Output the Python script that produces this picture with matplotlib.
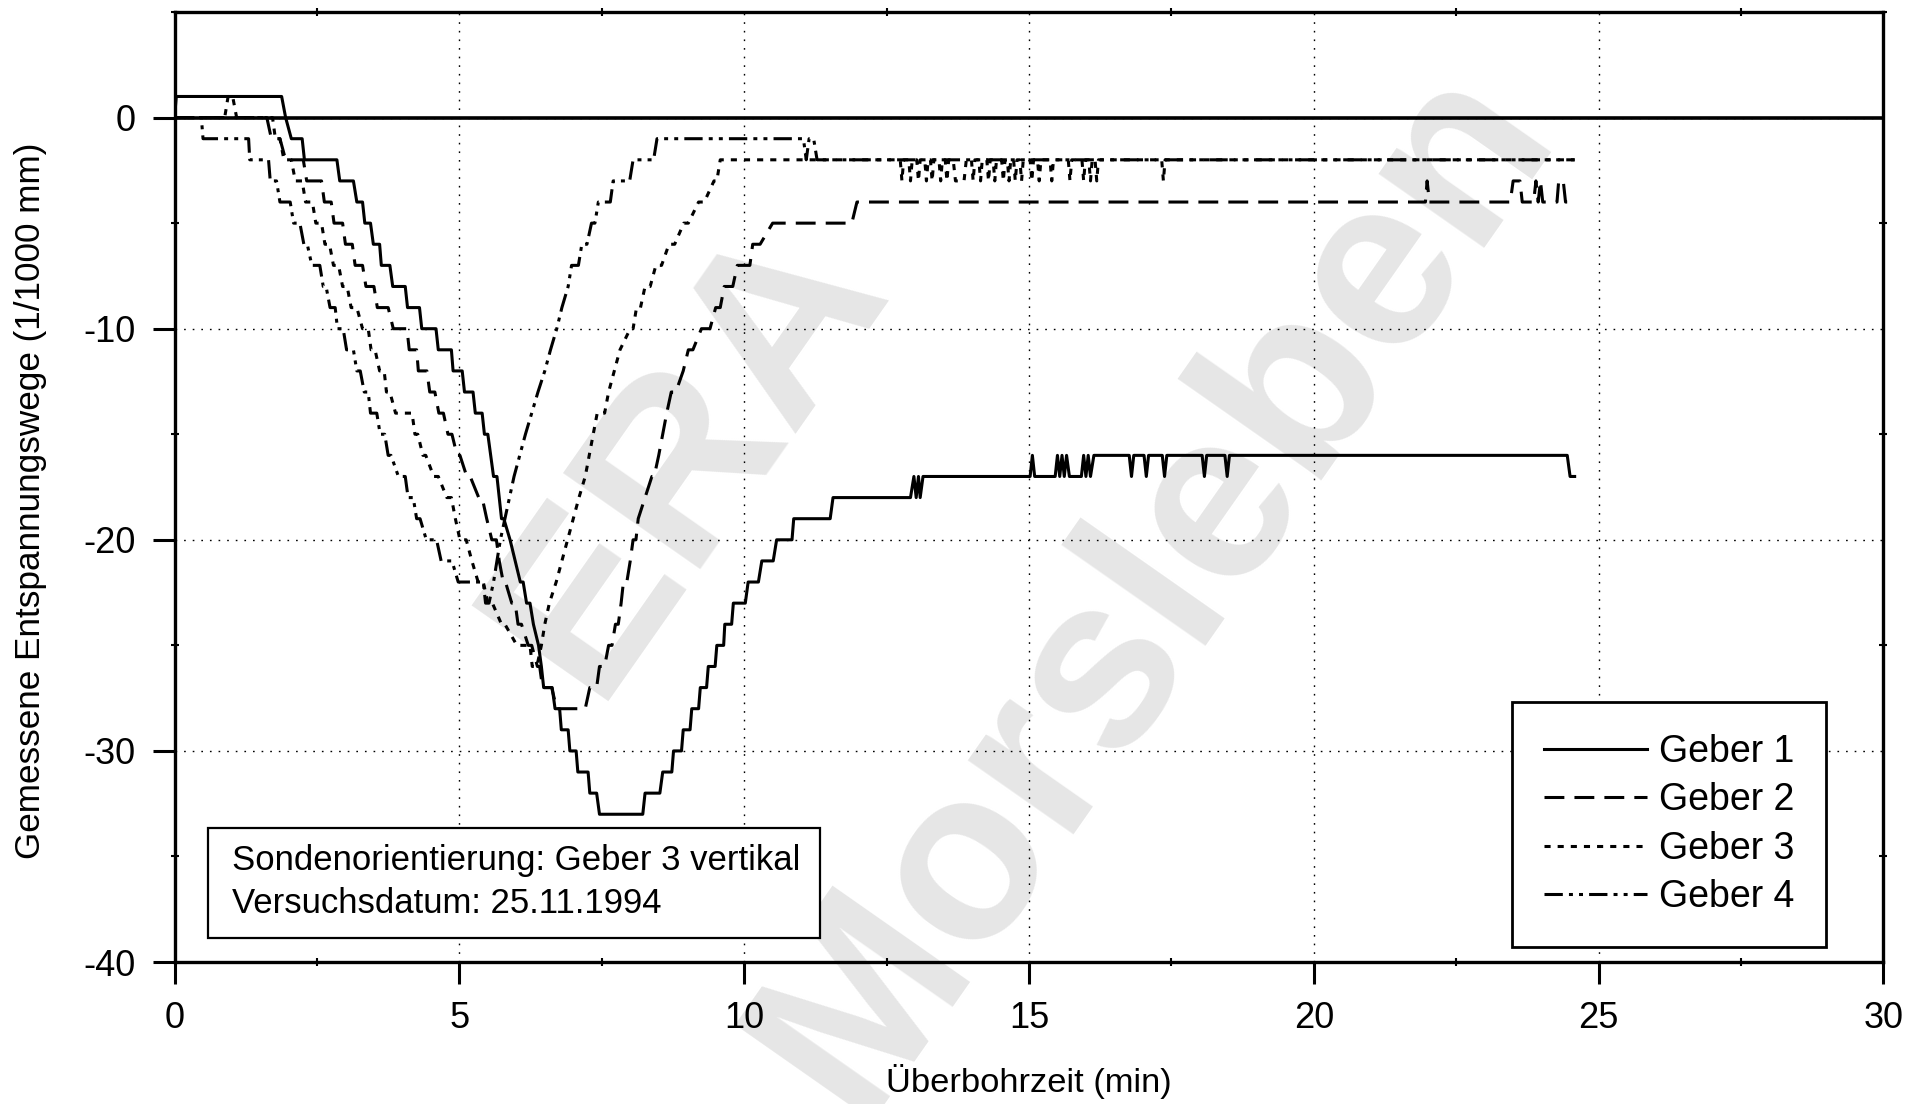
import matplotlib
matplotlib.use('Agg')
import matplotlib.pyplot as plt
from matplotlib.patches import Rectangle
from matplotlib.ticker import MultipleLocator

geber1 = [(0, 0), (0.03, 1), (1.88, 1), (1.95, 0), (2.05, -1), (2.24, -1), (2.28, -2), (2.85, -2),
          (2.90, -3), (3.14, -3), (3.20, -4), (3.30, -4), (3.34, -5), (3.44, -5), (3.49, -6), (3.60, -6),
          (3.63, -7), (3.78, -7), (3.83, -8), (4.05, -8), (4.09, -9), (4.30, -9), (4.34, -10), (4.59, -10),
          (4.63, -11), (4.86, -11), (4.89, -12), (5.05, -12), (5.09, -13), (5.24, -13), (5.28, -14),
          (5.40, -14), (5.44, -15), (5.50, -15), (5.60, -17), (5.66, -17), (5.74, -19), (5.78, -19),
          (5.89, -20), (5.98, -21), (6.07, -22), (6.12, -22), (6.18, -23), (6.24, -23), (6.30, -24),
          (6.39, -25), (6.44, -26), (6.48, -27), (6.63, -27), (6.68, -28), (6.76, -28), (6.79, -29),
          (6.91, -29), (6.94, -30), (7.05, -30), (7.08, -31), (7.26, -31), (7.29, -32), (7.41, -32),
          (7.46, -33), (8.22, -33), (8.26, -32), (8.52, -32), (8.57, -31), (8.73, -31), (8.76, -30),
          (8.90, -30), (8.93, -29), (9.05, -29), (9.08, -28), (9.20, -28), (9.23, -27), (9.34, -27),
          (9.37, -26), (9.49, -26), (9.52, -25), (9.64, -25), (9.66, -24), (9.78, -24), (9.81, -23),
          (10.02, -23), (10.07, -22), (10.25, -22), (10.31, -21), (10.51, -21), (10.57, -20), (10.84, -20),
          (10.87, -19), (11.51, -19), (11.56, -18), (12.92, -18), (12.98, -17), (13.02, -18), (13.06, -17),
          (13.09, -18), (13.14, -17), (15.02, -17), (15.06, -16), (15.10, -17), (15.46, -17), (15.50, -16),
          (15.54, -17), (15.58, -16), (15.62, -17), (15.66, -16), (15.71, -17), (15.92, -17), (15.96, -16),
          (16.00, -17), (16.04, -16), (16.08, -17), (16.14, -16), (16.76, -16), (16.80, -17), (16.84, -16),
          (17.02, -16), (17.06, -17), (17.10, -16), (17.34, -16), (17.38, -17), (17.42, -16), (18.04, -16),
          (18.08, -17), (18.12, -16), (18.44, -16), (18.48, -17), (18.52, -16), (24.45, -16), (24.50, -17),
          (24.58, -17)]

geber2 = [(0, 0), (1.62, 0), (1.70, -1), (1.85, -1), (1.95, -2), (2.26, -2), (2.32, -3), (2.58, -3),
          (2.63, -4), (2.75, -4), (2.80, -5), (2.95, -5), (3.00, -6), (3.12, -6), (3.17, -7), (3.30, -7),
          (3.36, -8), (3.50, -8), (3.56, -9), (3.75, -9), (3.84, -10), (4.08, -10), (4.12, -11), (4.25, -11),
          (4.28, -12), (4.43, -12), (4.48, -13), (4.57, -13), (4.64, -14), (4.72, -14), (4.80, -15),
          (4.87, -15), (4.96, -16), (5.01, -16), (5.13, -17), (5.19, -17), (5.34, -18), (5.40, -18),
          (5.48, -19), (5.57, -20), (5.65, -20), (5.70, -21), (5.77, -22), (5.81, -22), (5.92, -23),
          (5.98, -23), (6.03, -24), (6.09, -24), (6.21, -25), (6.27, -25), (6.37, -26), (6.41, -26),
          (6.46, -27), (6.62, -27), (6.71, -28), (7.21, -28), (7.29, -27), (7.41, -27), (7.46, -26),
          (7.55, -26), (7.62, -25), (7.68, -25), (7.74, -24), (7.79, -24), (7.84, -23), (7.88, -22),
          (7.94, -22), (8.00, -21), (8.05, -20), (8.10, -20), (8.14, -19), (8.26, -18), (8.38, -17),
          (8.42, -17), (8.50, -16), (8.57, -15), (8.64, -14), (8.72, -13), (8.80, -13), (8.93, -12),
          (9.02, -11), (9.10, -11), (9.25, -10), (9.40, -10), (9.50, -9), (9.58, -9), (9.65, -8),
          (9.80, -8), (9.88, -7), (10.10, -7), (10.15, -6), (10.28, -6), (10.50, -5), (11.89, -5),
          (11.98, -4), (21.96, -4), (21.99, -3), (22.03, -4), (23.45, -4), (23.50, -3), (23.62, -3),
          (23.66, -4), (23.86, -4), (23.90, -3), (23.94, -4), (23.98, -3), (24.02, -4), (24.27, -4),
          (24.30, -3), (24.38, -3), (24.42, -4), (24.62, -4)]

geber3 = [(0, 0), (0.88, 0), (0.94, 1), (1.02, 1), (1.09, 0), (1.72, 0), (1.77, -1), (1.85, -1),
          (1.92, -2), (2.05, -2), (2.12, -3), (2.24, -3), (2.30, -4), (2.42, -4), (2.48, -5), (2.58, -5),
          (2.64, -6), (2.72, -6), (2.79, -7), (2.88, -7), (2.95, -8), (3.03, -8), (3.10, -9), (3.20, -9),
          (3.30, -10), (3.40, -10), (3.45, -11), (3.52, -11), (3.60, -12), (3.68, -12), (3.72, -13),
          (3.78, -13), (3.88, -14), (4.17, -14), (4.22, -15), (4.27, -15), (4.36, -16), (4.41, -16),
          (4.55, -17), (4.63, -17), (4.78, -18), (4.86, -18), (4.93, -19), (5.01, -20), (5.12, -20),
          (5.22, -21), (5.33, -22), (5.42, -22), (5.50, -23), (5.58, -23), (5.74, -24), (5.80, -24),
          (6.01, -25), (6.24, -25), (6.28, -26), (6.36, -26), (6.44, -25), (6.50, -24), (6.58, -23),
          (6.70, -22), (6.80, -21), (6.90, -20), (7.00, -19), (7.10, -18), (7.21, -17), (7.28, -16),
          (7.35, -15), (7.42, -14), (7.55, -14), (7.62, -13), (7.72, -12), (7.82, -11), (8.00, -10),
          (8.05, -10), (8.11, -9), (8.18, -9), (8.26, -8), (8.35, -8), (8.45, -7), (8.55, -7), (8.68, -6),
          (8.78, -6), (8.94, -5), (9.02, -5), (9.20, -4), (9.30, -4), (9.47, -3), (9.52, -3), (9.58, -2),
          (12.74, -2), (12.77, -3), (12.80, -2), (12.89, -2), (12.92, -3), (12.95, -2), (13.03, -2),
          (13.06, -3), (13.09, -2), (13.17, -2), (13.20, -3), (13.23, -2), (13.27, -2), (13.30, -3),
          (13.33, -2), (13.42, -2), (13.45, -3), (13.48, -2), (13.53, -2), (13.56, -3), (13.59, -2),
          (13.67, -2), (13.71, -3), (13.86, -3), (13.90, -2), (13.99, -2), (14.02, -3), (14.05, -2),
          (14.12, -2), (14.15, -3), (14.18, -2), (14.26, -2), (14.29, -3), (14.32, -2), (14.37, -2),
          (14.40, -3), (14.43, -2), (14.52, -2), (14.55, -3), (14.58, -2), (14.62, -2), (14.65, -3),
          (14.68, -2), (14.73, -2), (14.76, -3), (14.79, -2), (14.84, -2), (14.87, -3), (14.90, -2),
          (15.02, -2), (15.05, -3), (15.08, -2), (15.15, -2), (15.18, -3), (15.21, -2), (15.37, -2),
          (15.40, -3), (15.43, -2), (15.69, -2), (15.72, -3), (15.75, -2), (15.93, -2), (15.96, -3),
          (15.99, -2), (16.05, -2), (16.08, -3), (16.11, -2), (16.16, -2), (16.19, -3), (16.22, -2),
          (17.33, -2), (17.36, -3), (17.39, -2), (24.58, -2)]

geber4 = [(0, 0), (0.47, 0), (0.50, -1), (1.30, -1), (1.32, -2), (1.65, -2), (1.68, -3), (1.79, -3),
          (1.85, -4), (2.03, -4), (2.09, -5), (2.20, -5), (2.27, -6), (2.33, -6), (2.41, -7), (2.55, -7),
          (2.61, -8), (2.66, -8), (2.73, -9), (2.82, -9), (2.86, -10), (2.96, -10), (3.02, -11),
          (3.14, -11), (3.20, -12), (3.26, -12), (3.33, -13), (3.40, -13), (3.44, -14), (3.55, -14),
          (3.61, -15), (3.69, -15), (3.75, -16), (3.80, -16), (3.93, -17), (4.05, -17), (4.10, -18),
          (4.19, -18), (4.25, -19), (4.31, -19), (4.42, -20), (4.60, -20), (4.68, -21), (4.87, -21),
          (4.98, -22), (5.42, -22), (5.46, -23), (5.52, -23), (5.60, -22), (5.66, -21), (5.72, -20),
          (5.80, -19), (5.88, -18), (5.96, -17), (6.06, -16), (6.16, -15), (6.27, -14), (6.38, -13),
          (6.50, -12), (6.60, -11), (6.71, -10), (6.80, -9), (6.91, -8), (6.97, -7), (7.09, -7),
          (7.15, -6), (7.24, -6), (7.32, -5), (7.38, -5), (7.44, -4), (7.65, -4), (7.70, -3), (7.99, -3),
          (8.05, -2), (8.41, -2), (8.47, -1), (11.04, -1), (11.09, -2), (11.14, -1), (11.22, -1),
          (11.28, -2), (24.58, -2)]

labels = ['Geber 1', 'Geber 2', 'Geber 3', 'Geber 4']
x_ticks = [0, 5, 10, 15, 20, 25, 30]
y_ticks = [-40, -30, -20, -10, 0]

plt.rcParams['font.family'] = ['Liberation Sans', 'DejaVu Sans']
plt.rcParams['axes.unicode_minus'] = False

fig = plt.figure(figsize=(19.14, 11.04), dpi=100)
ax = fig.add_axes([0.0912, 0.1286, 0.8928, 0.8605])
ax.set_facecolor('none')

# Wasserzeichen hinter dem Diagramm
fig.text(0.360, 0.588, 'ERA', rotation=55, ha='center', va='center', fontsize=175,
         fontweight='bold', color='#e6e6e6', zorder=-1)
fig.text(0.603, 0.468, 'Morsleben', rotation=55, ha='center', va='center', fontsize=175,
         fontweight='bold', color='#e6e6e6', zorder=-1)

styles = ['-', (0, (6.5, 3.3)), (0, (2.0, 2.3)), (0, (6, 2, 1.3, 2, 1.3, 2))]
for data, lab, ls in zip([geber1, geber2, geber3, geber4], labels, styles):
    t = [p[0] for p in data]
    v = [p[1] for p in data]
    ax.plot(t, v, color='black', lw=2.2, linestyle=ls, label=lab, zorder=3)

ax.axhline(0, color='black', lw=2.6, zorder=4)

ax.set_xlim(0, 30)
ax.set_ylim(-40, 5)
ax.set_xticks(x_ticks)
ax.set_yticks(y_ticks)
ax.set_xticklabels([str(x) for x in x_ticks])
ax.set_yticklabels([str(y) for y in y_ticks])
ax.xaxis.set_minor_locator(MultipleLocator(2.5))
ax.yaxis.set_minor_locator(MultipleLocator(5))
ax.tick_params(which='major', direction='out', length=16, width=2.2, labelsize=26, pad=12)
ax.tick_params(which='minor', direction='inout', length=6, width=1.5, top=True, right=True)

ax.grid(True, which='major', color='black', linestyle=(0, (1.2, 5)), linewidth=1.0)
ax.set_axisbelow(True)
for sp in ax.spines.values():
    sp.set_linewidth(2.4)

ax.set_xlabel('Überbohrzeit (min)', fontsize=24.8)
ax.xaxis.set_label_coords(0.5, -0.126)
ax.xaxis.label.set_va('center')
ax.set_ylabel('Gemessene Entspannungswege (1/1000 mm)', fontsize=25.3)
ax.yaxis.set_label_coords(-0.0843, 0.486)
ax.yaxis.label.set_va('center')

leg = ax.legend(loc='lower right', bbox_to_anchor=(0.9664, 0.0158), fontsize=27, frameon=True,
                fancybox=False, edgecolor='black', framealpha=1, borderpad=0.85, labelspacing=0.33,
                handlelength=2.75, handletextpad=0.3, borderaxespad=0)
leg.get_frame().set_linewidth(2.0)

ax.add_patch(Rectangle((0.0193, 0.0258), 0.3585, 0.1156, transform=ax.transAxes,
                       facecolor='white', edgecolor='black', lw=1.6, zorder=5))
ax.text(0.0337, 0.1067, 'Sondenorientierung: Geber 3 vertikal', transform=ax.transAxes,
        fontsize=25, va='center', ha='left', zorder=6)
ax.text(0.0337, 0.0618, 'Versuchsdatum: 25.11.1994', transform=ax.transAxes,
        fontsize=25, va='center', ha='left', zorder=6)

fig.savefig('out.png', dpi=100)
